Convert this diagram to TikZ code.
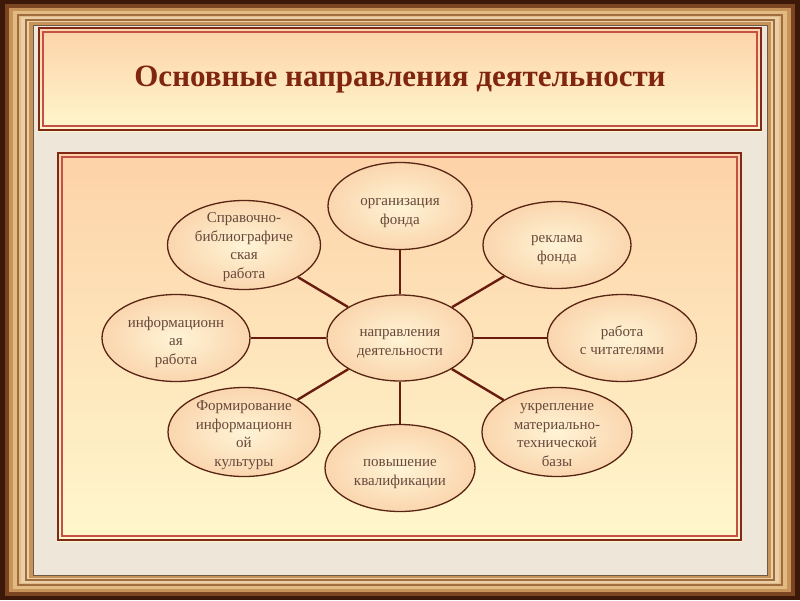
\documentclass[tikz,border=0pt]{standalone}
\usepackage{fontspec}
\setmainfont{Liberation Serif}
\usetikzlibrary{shapes.geometric}
\definecolor{wooddark}{RGB}{59, 24, 8}
\definecolor{woodmid}{RGB}{122, 69, 32}
\definecolor{woodtan}{RGB}{200, 147, 88}
\definecolor{woodlight}{RGB}{226, 186, 132}
\definecolor{woodline}{RGB}{160, 110, 60}
\definecolor{mat}{RGB}{238, 230, 216}
\definecolor{matline}{RGB}{111, 90, 69}
\definecolor{boxouter}{RGB}{130, 40, 25}
\definecolor{boxinner}{RGB}{196, 80, 70}
\definecolor{peach}{RGB}{253, 210, 168}
\definecolor{cream}{RGB}{255, 247, 205}
\definecolor{titlecol}{RGB}{128, 38, 14}
\definecolor{ovalline}{RGB}{88, 36, 20}
\definecolor{ovalin}{RGB}{255, 244, 214}
\definecolor{ovalout}{RGB}{250, 214, 174}
\definecolor{ovaltxt}{RGB}{104, 72, 58}
\definecolor{spokecol}{RGB}{104, 28, 14}

\begin{document}
\begin{tikzpicture}[x=1pt, y=-1pt,
	oval/.style={ellipse, draw=ovalline, line width=1.3pt, inner color=ovalin, outer color=ovalout, inner sep=0pt, minimum width=148pt, minimum height=87pt},
	ovaltext/.style={text=ovaltxt, align=center, font=\fontsize{15}{18.5}\selectfont},
	spoke/.style={draw=spokecol, line width=2.4pt}]
	\useasboundingbox (0,0) rectangle (800,600);
	% frame
	\fill[wooddark] (0,0) rectangle (800,600);
	\fill[woodmid] (5,4) rectangle (795,596);
	\fill[woodtan] (9,8) rectangle (791,592);
	\fill[woodlight] (13,11) rectangle (787,589);
	\draw[woodline, line width=2pt] (18,15) rectangle (782,585);
	\fill[woodlight!70!white] (21,17) rectangle (779,583);
	\draw[woodline, line width=1.5pt] (26,20) rectangle (774,580);
	\fill[woodtan] (29,22) rectangle (771,578);
	\filldraw[fill=mat, draw=matline, line width=0.8pt] (33,25) rectangle (767,575);
	% title box
	\shade[top color=peach, bottom color=cream] (38,27) rectangle (762,131);
	\draw[boxouter, line width=2pt] (39,28) rectangle (761,130);
	\draw[boxinner, line width=1.2pt] (43,32) rectangle (757,126);
	\node[text=titlecol, font=\fontsize{31}{36}\selectfont\bfseries] (title) at (400,80) {Основные направления деятельности};
	% main box
	\shade[top color=peach, bottom color=cream] (57,152) rectangle (742,541);
	\draw[boxouter, line width=2pt] (58,153) rectangle (741,540);
	\draw[boxinner, line width=1.2pt] (62,157) rectangle (737,536);
	% ovals
	\node[oval, minimum width=146pt, minimum height=86pt] (centre) at (400,338) {};
	\node[oval, minimum width=144pt, minimum height=87pt] (fond) at (400,206) {};
	\node[oval, minimum width=153pt, minimum height=89pt] (sprav) at (244,245) {};
	\node[oval] (reklama) at (557,245) {};
	\node[oval] (inform) at (176,338) {};
	\node[oval, minimum width=149pt] (chitat) at (622,338) {};
	\node[oval, minimum width=152pt, minimum height=89pt] (kultura) at (244,432) {};
	\node[oval, minimum width=150pt, minimum height=89pt] (baza) at (557,432) {};
	\node[oval, minimum width=150pt] (kvalif) at (400,468) {};
	\foreach \n in {fond,sprav,reklama,inform,chitat,kultura,baza,kvalif}
		\draw[spoke] (centre) -- (\n);
	% texts
	\node[ovaltext] (centre-t) at ([yshift=-6pt]centre.center) {направления\\деятельности};
	\node[ovaltext] (fond-t) at ([yshift=-7pt]fond.center) {организация\\фонда};
	\node[ovaltext] (sprav-t) at ([yshift=-2pt]sprav.center) {Справочно-\\библиографиче\\ская\\работа};
	\node[ovaltext] (reklama-t) at ([yshift=-5pt]reklama.center) {реклама\\фонда};
	\node[ovaltext] (inform-t) at ([yshift=-4pt]inform.center) {информационн\\ая\\работа};
	\node[ovaltext] (chitat-t) at ([yshift=-2pt]chitat.center) {работа\\с читателями};
	\node[ovaltext] (kultura-t) at ([yshift=-3pt]kultura.center) {Формирование\\информационн\\ой\\культуры};
	\node[ovaltext] (baza-t) at ([yshift=-3pt]baza.center) {укрепление\\материально-\\технической\\базы};
	\node[ovaltext] (kvalif-t) at ([yshift=-6pt]kvalif.center) {повышение\\квалификации};
\end{tikzpicture}
\end{document}
